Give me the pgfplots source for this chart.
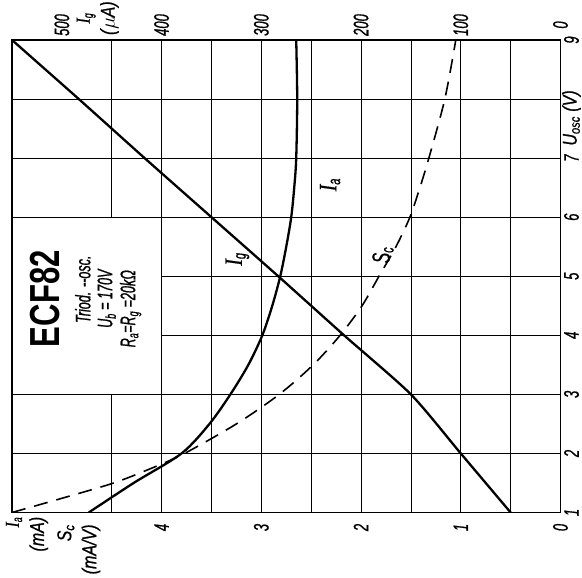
\documentclass[border=0pt]{standalone}
\usepackage{fontspec}
\setmainfont{Liberation Sans}
\newfontfamily\condfam[FakeStretch=0.62, FakeBold=0.8]{Liberation Sans}
\newfontfamily\descfam[FakeStretch=0.8, FakeBold=0.8]{Liberation Sans}
\newfontfamily\boxfam[FakeStretch=0.6, FakeBold=0.8]{Liberation Sans}
\newfontfamily\boldfam[FakeStretch=0.74]{Liberation Sans}
\newfontfamily\serfam[FakeStretch=0.8, FakeBold=0.6]{Liberation Serif}
\newcommand\tickfont{\condfam\itshape\fontsize{21}{21}\selectfont}
\newcommand\descfont{\descfam\itshape\fontsize{20}{25}\selectfont}
\newcommand\boxfont{\boxfam\itshape\fontsize{21}{21}\selectfont}
\newcommand\SI[2]{{\serfam\itshape #1}\textsubscript{\condfam\itshape #2}}
\usepackage{pgfplots}
\pgfplotsset{compat=1.18}
\begin{document}
\begin{tikzpicture}
\path[use as bounding box] (-12pt,-65.5pt) rectangle (570pt,512.5pt);
% main axis: horizontal = I_a, S_c (mA, mA/V), vertical = U_osc (V)
\begin{axis}[
  scale only axis, width=548.5pt, height=472.5pt,
  xmin=0, xmax=5.5, ymin=1, ymax=9, x dir=reverse,
  xtick={0,1,2,3,4}, minor xtick={0.5,1.5,2.5,3.5,4.5},
  ytick={1,2,3,4,5,6,7,8,9},
  yticklabels={1,2,3,4,5,6,7,,9},
  yticklabel pos=right,
  xmajorgrids, xminorgrids, ymajorgrids,
  major grid style={black, line width=0.7pt},
  minor grid style={black, line width=0.7pt},
  axis line style={black, line width=1.5pt},
  major tick length=0pt, minor tick length=0pt,
  tick style={draw=none},
  /pgf/number format/assume math mode=true,
  ticklabel style={font=\tickfont, inner sep=0pt},
  xticklabel style={anchor=center, yshift=-15pt, rotate=90},
  yticklabel style={anchor=center, xshift=11pt, rotate=90},
  clip mode=individual,
]
% I_a (mA)
\addplot[black, line width=2.3pt, smooth, tension=0.5] coordinates {
 (4.73,1) (4.28,1.5) (3.80,2) (3.52,2.5) (3.31,3) (3.13,3.5) (2.99,4)
 (2.89,4.5) (2.81,5) (2.75,5.5) (2.70,6) (2.67,6.5) (2.65,7) (2.64,8) (2.65,9)};
% S_c (mA/V)
\addplot[black, line width=1.6pt, dash pattern=on 14pt off 9pt, smooth, tension=0.5] coordinates {
 (5.5,1) (4.98,1.25) (4.48,1.5) (4.10,1.75) (3.77,2) (3.25,2.5) (2.82,3)
 (2.48,3.5) (2.21,4) (1.99,4.5) (1.82,5) (1.65,5.5) (1.51,6) (1.41,6.5)
 (1.32,7) (1.16,8) (1.05,9)};
% info box
\fill[white] (axis cs:5.5,3) rectangle (axis cs:4.0,6);
\draw[black, line width=0.7pt] (axis cs:5.5,3) -- (axis cs:4.0,3) -- (axis cs:4.0,6) -- (axis cs:5.5,6);
\draw[black, line width=1.5pt] (axis cs:5.5,2.98) -- (axis cs:5.5,6.02);
\node[rotate=90, font=\boldfam\bfseries\fontsize{42}{42}\selectfont] at (axis cs:5.17,4.62) {ECF82};
\node[rotate=90, font=\boxfont] at (axis cs:4.79,4.78) {Triod. --osc.};
\node[rotate=90, font=\boxfont] at (axis cs:4.55,4.62) {U\textsubscript{b} = 170V};
\node[rotate=90, font=\boxfont] at (axis cs:4.31,4.45) {R\textsubscript{a}=R\textsubscript{g} =20kΩ};
% curve labels
\node[rotate=90, font=\fontsize{25}{25}\selectfont] at (axis cs:2.31,6.55) {\SI{I}{a}};
\node[rotate=90, font=\fontsize{25}{25}\selectfont] at (axis cs:3.24,5.29) {\SI{I}{g}};
\node[rotate=90, font=\fontsize{25}{25}\selectfont] at (axis cs:1.78,5.36) {{\condfam\itshape S}\textsubscript{\condfam\itshape c}};
% axis descriptions
\node[rotate=90, anchor=east, align=right, font=\descfont, inner sep=0pt] at (axis cs:5.35,0.93) {\SI{I}{a}\\(mA)};
\node[rotate=90, anchor=east, align=right, font=\descfont, inner sep=0pt] at (axis cs:4.83,0.80) {S\textsubscript{c}\\(mA/V)};
\node[rotate=90, anchor=center, font=\descfont, inner sep=0pt] at (axis cs:-0.11,7.68) {U\textsubscript{osc} (V)};
\node[rotate=90, anchor=center, align=center, font=\descfont, inner sep=0pt] at (axis cs:4.64,9.37) {\SI{I}{g}\\($\mu$A)};
\end{axis}
% I_g axis (uA) on top
\begin{axis}[
  scale only axis, width=548.5pt, height=472.5pt,
  xmin=0, xmax=550, ymin=1, ymax=9, x dir=reverse,
  axis x line*=top, axis y line=none,
  xtick={0,100,200,300,400,500},
  major tick length=0pt, tick style={draw=none},
  axis line style={black, line width=1.5pt},
  /pgf/number format/assume math mode=true,
  xticklabel style={font=\tickfont, inner sep=0pt, anchor=center, yshift=15pt, rotate=90},
]
\addplot[black, line width=2.3pt, smooth, tension=0.4] coordinates {
 (50,1) (100,2) (150,3) (217,4) (283,5) (350,6) (417,7) (483,8) (550,9)};
\end{axis}
\end{tikzpicture}
\end{document}
